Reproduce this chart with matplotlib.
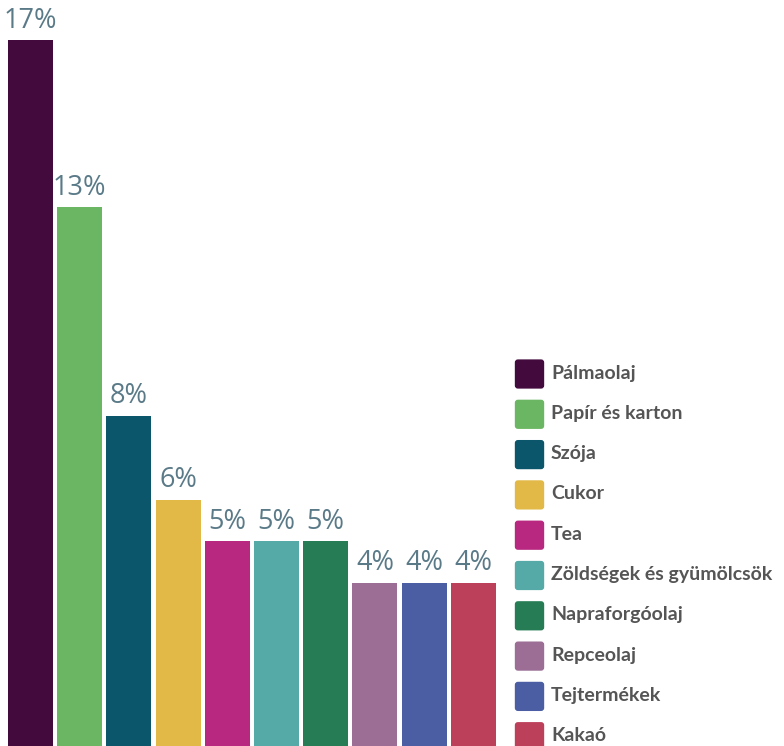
import matplotlib
matplotlib.use("Agg")
import matplotlib.pyplot as plt
from matplotlib.patches import FancyBboxPatch

categories = ["Pálmaolaj", "Papír és karton", "Szója", "Cukor", "Tea",
              "Zöldségek és gyümölcsök", "Napraforgóolaj", "Repceolaj",
              "Tejtermékek", "Kakaó"]
values = [17, 13, 8, 6, 5, 5, 5, 4, 4, 4]
labels = ["17%", "13%", "8%", "6%", "5%", "5%", "5%", "4%", "4%", "4%"]
colors = ["#430a3d", "#6bb663", "#0b566b", "#e2b846", "#b82880",
          "#55aaa8", "#267c55", "#9c6e96", "#4b5ea3", "#bc405a"]

W, H = 784, 746
fig = plt.figure(figsize=(W / 100, H / 100), dpi=100)
ax = fig.add_axes([0, 0, 1, 1])

pitch = 49.2      # px per category
ppu = 41.75       # px per percent
x0 = 30.5         # px of first bar centre
base = 750        # px of baseline (from top)
ax.set_xlim((0 - x0) / pitch, (W - x0) / pitch)
ax.set_ylim((base - H) / ppu, base / ppu)
ax.axis("off")

xs = list(range(len(values)))
ax.bar(xs, values, width=0.915, color=colors, edgecolor="none")
for x, v, lab in zip(xs, values, labels):
    ax.annotate(lab, (x, v), xytext=(0, 4), textcoords="offset points",
                ha="center", va="bottom", fontsize=19.5, color="#5a7a88",
                family="Open Sans")

# legend drawn in figure pixel space
for i, (cat, col) in enumerate(zip(categories, colors)):
    cy = 374 + i * 40.3
    ypx = H - cy
    patch = FancyBboxPatch((516 / W, (ypx - 13.5) / H), 27 / W, 27 / H,
                           boxstyle="round,pad=0.0015,rounding_size=0.004",
                           transform=fig.transFigure, facecolor=col,
                           edgecolor="none")
    fig.add_artist(patch)
    fig.text(551 / W, (ypx - 4.5) / H, cat, ha="left", va="baseline",
             fontsize=14, fontweight="bold", color="#555555",
             family="Lato")

fig.savefig("out.png", dpi=100)
